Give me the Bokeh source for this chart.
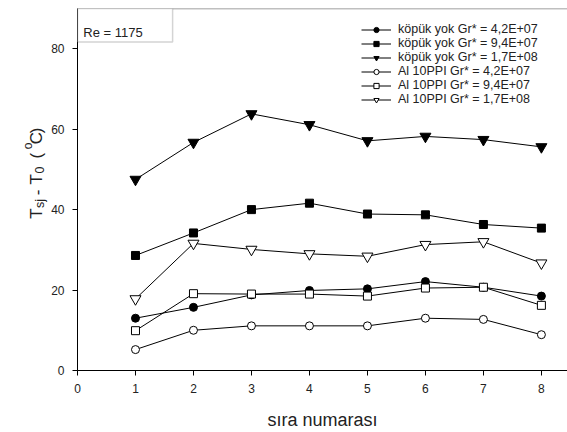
from bokeh.plotting import figure
from bokeh.layouts import row
from bokeh.models import (Range1d, FixedTicker, Legend, LegendItem, Label,
                          BoxAnnotation, Span)
from bokeh.embed import file_html
from bokeh.resources import INLINE
import math

# ---------------- data ----------------
sira = [1, 2, 3, 4, 5, 6, 7, 8]
kopuk_42 = [13.0, 15.7, 18.8, 19.9, 20.3, 22.1, 20.7, 18.5]
kopuk_94 = [28.6, 34.2, 40.0, 41.6, 38.9, 38.7, 36.3, 35.4]
kopuk_17 = [47.5, 56.7, 63.8, 61.1, 57.1, 58.2, 57.4, 55.6]
al_42 = [5.2, 10.0, 11.1, 11.1, 11.1, 13.0, 12.7, 8.9]
al_94 = [9.9, 19.1, 19.0, 19.0, 18.5, 20.5, 20.7, 16.2]
al_17 = [17.8, 31.6, 30.1, 29.0, 28.4, 31.3, 32.0, 26.7]
x_ticks = [0, 1, 2, 3, 4, 5, 6, 7, 8]
y_ticks = [0, 20, 40, 60, 80]
labels = ["köpük yok Gr* = 4,2E+07", "köpük yok Gr* = 9,4E+07",
          "köpük yok Gr* = 1,7E+08", "Al 10PPI Gr* = 4,2E+07",
          "Al 10PPI Gr* = 9,4E+07", "Al 10PPI Gr* = 1,7E+08"]

FONT = "Liberation Sans"
LW = 48   # width of the strip holding the y-axis title

# ---------------- y-axis title strip ----------------
left = figure(width=LW, height=432, output_backend="svg", toolbar_location=None,
              x_range=Range1d(0, LW), y_range=Range1d(0, 432),
              x_axis_location=None, y_axis_location=None,
              min_border=0, min_border_left=0, min_border_right=0,
              min_border_top=0, min_border_bottom=0)
left.outline_line_color = None
left.xgrid.visible = False
left.ygrid.visible = False
left.background_fill_color = "white"
left.border_fill_color = "white"


def ylab(txt, py, bx, size):
    left.add_layout(Label(x=bx, y=432 - py, text=txt, angle=math.pi / 2,
                          text_font=FONT, text_font_size=size,
                          text_color="#222222", text_align="left",
                          text_baseline="alphabetic"))


ylab("T", 251, 36, "17px")
ylab("sj", 238, 39, "12.5px")
ylab("-", 223, 36, "17px")
ylab("T", 210, 36, "17px")
ylab("0", 197, 39, "12.5px")
ylab("(", 179, 36, "17px")
ylab("o", 168, 27, "12px")
ylab("C", 162, 36, "17px")
ylab(")", 149, 36, "17px")

# ---------------- main plot ----------------
p = figure(width=567 - LW, height=432, output_backend="svg", toolbar_location=None,
           x_range=Range1d(0, 8.45), y_range=Range1d(0, 90),
           min_border_left=77 - LW, min_border_right=0, min_border_top=8,
           min_border_bottom=62)
p.background_fill_color = "white"
p.border_fill_color = "white"
p.outline_line_color = None
p.xgrid.visible = False
p.ygrid.visible = False

for ax in (p.xaxis[0], p.yaxis[0]):
    ax.axis_line_color = "black"
    ax.major_tick_line_color = "black"
    ax.major_tick_out = 5
    ax.major_tick_in = 0
    ax.minor_tick_line_color = None
    ax.major_label_text_font = FONT
    ax.major_label_text_font_size = "12px"
    ax.major_label_text_color = "#222222"
    ax.major_label_standoff = 8

p.xaxis.ticker = FixedTicker(ticks=x_ticks)
p.yaxis.ticker = FixedTicker(ticks=y_ticks)
p.xaxis.axis_label = "sıra numarası"
p.xaxis.axis_label_text_font = FONT
p.xaxis.axis_label_text_font_size = "18px"
p.xaxis.axis_label_text_font_style = "normal"
p.xaxis.axis_label_text_color = "#222222"
p.xaxis.axis_label_standoff = 14

# top frame line
p.add_layout(Span(location=90, dimension="width", line_color="#808080", line_width=1.5))

series = [
    (kopuk_42, "circle", "black", 8),
    (kopuk_94, "square", "black", 8),
    (kopuk_17, "inverted_triangle", "black", 11),
    (al_42, "circle", "white", 8),
    (al_94, "square", "white", 8),
    (al_17, "inverted_triangle", "white", 11),
]
items = []
for (ys, mk, fill, sz), lab in zip(series, labels):
    ln = p.line(sira, ys, line_color="black", line_width=1)
    sc = p.scatter(sira, ys, marker=mk, size=sz, fill_color=fill,
                   line_color="black", line_width=1)
    items.append(LegendItem(label=lab, renderers=[ln, sc]))

legend = Legend(items=items, location=(284, 264), orientation="vertical",
                border_line_color=None, background_fill_alpha=0,
                padding=0, margin=0, spacing=0,
                glyph_width=30, glyph_height=13, label_height=13,
                label_standoff=7, label_text_font=FONT,
                label_text_font_size="12.5px", label_text_color="#222222")
p.add_layout(legend)

# Re box
p.add_layout(BoxAnnotation(left=0, right=1.64, bottom=81.7, top=90,
                           fill_color="white", fill_alpha=1,
                           line_color="#707070", line_width=1.5))
p.add_layout(Label(x=0.1, y=84.0, text="Re = 1175", text_font=FONT,
                   text_font_size="13px", text_color="#222222",
                   text_baseline="alphabetic"))

layout = row(left, p, spacing=0)
open("out.html", "w").write(file_html(layout, INLINE))
